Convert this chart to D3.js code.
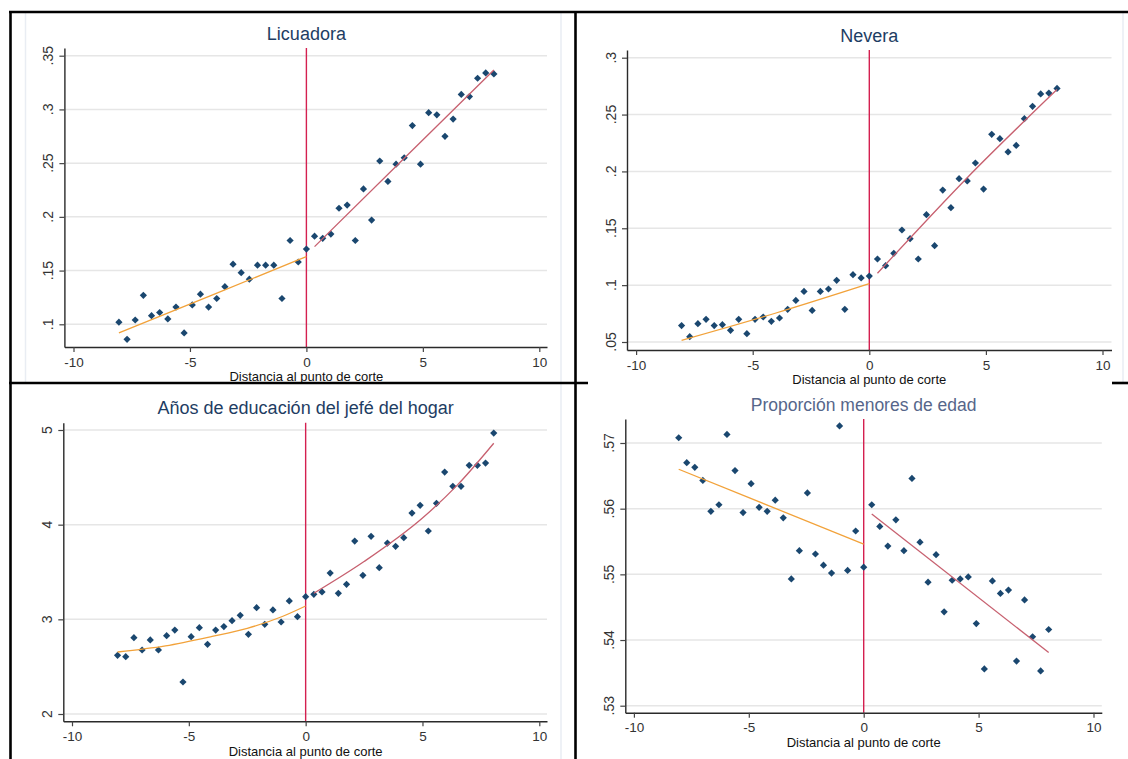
<!DOCTYPE html>
<html>
<head>
<meta charset="utf-8">
<script src="https://cdn.jsdelivr.net/npm/d3@7"></script>
<style>
  body { margin: 0; background: #fff; }
  svg { display: block; }
  text { font-family: "Liberation Sans", Arial, sans-serif; }
</style>
</head>
<body>
<svg id="chart" width="1128" height="759"></svg>
<script>
// ---------------- DATA ----------------
const xBins = [-8.05,-7.7,-7.35,-7,-6.65,-6.3,-5.95,-5.6,-5.25,-4.9,-4.55,-4.2,-3.85,-3.5,-3.15,-2.8,-2.45,-2.1,-1.75,-1.4,-1.05,-0.7,-0.35,0,
               0.35,0.7,1.05,1.4,1.75,2.1,2.45,2.8,3.15,3.5,3.85,4.2,4.55,4.9,5.25,5.6,5.95,6.3,6.65,7,7.35,7.7,8.05];

const licuadora = [.102,.086,.104,.127,.108,.111,.105,.116,.092,.118,.128,.116,.124,.135,.156,.148,.142,.155,.155,.155,.124,.178,.158,.170,
                   .182,.180,.184,.208,.211,.178,.226,.197,.252,.233,.249,.255,.285,.249,.297,.295,.275,.291,.314,.312,.329,.334,.333];
const nevera = [.0644,.0547,.0661,.0699,.0644,.0652,.0603,.0699,.0573,.0699,.0720,.0682,.0711,.0787,.0866,.0945,.0778,.0945,.0966,.1042,.0787,.1092,.1063,.1080,
                .1230,.1171,.1280,.1485,.1409,.1230,.1620,.1347,.1836,.1681,.1936,.1916,.2074,.1845,.2326,.2288,.2171,.2229,.2464,.2572,.2681,.2689,.2730];
const educacion = [2.620,2.606,2.806,2.676,2.782,2.676,2.827,2.887,2.338,2.817,2.912,2.736,2.887,2.923,2.986,3.042,2.842,3.123,2.947,3.099,2.972,3.194,3.028,3.239,
                   3.264,3.289,3.489,3.275,3.370,3.827,3.465,3.877,3.546,3.806,3.771,3.863,4.123,4.204,3.933,4.225,4.556,4.405,4.405,4.627,4.627,4.651,4.968];
const menores = [.5708,.5670,.5663,.5643,.5596,.5606,.5713,.5658,.5594,.5638,.5602,.5596,.5613,.5586,.5493,.5536,.5624,.5531,.5514,.5502,.5726,.5506,.5566,.5511,
                 .5606,.5573,.5543,.5583,.5536,.5646,.5549,.5488,.5530,.5443,.5491,.5493,.5496,.5425,.5356,.5490,.5471,.5476,.5368,.5461,.5405,.5353,.5416];

// fitted lines (left / right of the cut-off)
const licFitLeft  = [[-8.05,.092],[-4,.1277],[0,.163]];
const licFitRight = [[0.35,.1723],[4.2,.2545],[8.05,.3367]];
const nevFitLeft  = [[-8.05,.0515],[-4,.0755],[0,.1013]];
const nevFitRight = [[0.35,.1104],[4.2,.1945],[8.05,.272]];
const eduFitLeft  = [[-8.05,2.655],[-6,2.72],[-4,2.82],[-2.5,2.905],[-1,3.03],[0,3.141]];
const eduFitRight = [[0.35,3.275],[2.5,3.61],[5,4.07],[6.5,4.42],[8.05,4.86]];
const menFitLeft  = [[-8.05,.5660],[0,.5546]];
const menFitRight = [[0.35,.5592],[8.05,.5381]];

const xTicks   = [-10,-5,0,5,10];
const licTicks = [.1,.15,.2,.25,.3,.35];
const nevTicks = [.05,.1,.15,.2,.25,.3];
const eduTicks = [2,3,4,5];
const menTicks = [.53,.54,.55,.56,.57];

const titles = ["Licuadora","Nevera","Años de educación del jefé del hogar","Proporción menores de edad"];
const xTitle = "Distancia al punto de corte";

// ---------------- LAYOUT ----------------
const panels = [
  { title: titles[0], values: licuadora, fitL: licFitLeft, fitR: licFitRight, yTicks: licTicks,
    xPix: [73.5, 539.3], left: 64.4, right: 547, bottom: 347, top: 48, yRef: [[.1,324.3],[.35,55.7]],
    titleBase: 40, labelBase: 380.5, titleColor: "#1e3d63", titleSize: 18 },
  { title: titles[1], values: nevera, fitL: nevFitLeft, fitR: nevFitRight, yTicks: nevTicks,
    xPix: [636.1, 1102.5], left: 627, right: 1111.5, bottom: 350, top: 50, yRef: [[.05,342],[.3,57.7]],
    titleBase: 41.7, labelBase: 383.5, titleColor: "#1e3d63", titleSize: 18 },
  { title: titles[2], values: educacion, fitL: eduFitLeft, fitR: eduFitRight, yTicks: eduTicks,
    xPix: [72, 539.3], left: 63.3, right: 547, bottom: 721.3, top: 422.7, yRef: [[2,714],[5,430]],
    titleBase: 414, labelBase: 755.5, titleColor: "#1e3d63", titleSize: 18 },
  { title: titles[3], values: menores, fitL: menFitLeft, fitR: menFitRight, yTicks: menTicks,
    xPix: [633.9, 1093.5], left: 625.3, right: 1101.8, bottom: 712.7, top: 419, yRef: [[.53,705.7],[.57,443]],
    titleBase: 410.7, labelBase: 746.5, titleColor: "#56668a", titleSize: 17.5 }
];

const svg = d3.select("#chart");
const fmtY = v => String(+v.toFixed(4)).replace(/^0\./, ".");

// faint graph-region edges
[[25.5,12,383],[561,12,759],[1123,12,383]].forEach(([x,y1,y2]) => {
  svg.append("line").attr("x1",x).attr("x2",x).attr("y1",y1).attr("y2",y2)
    .attr("stroke","#e9edf3").attr("stroke-width",1.5);
});

panels.forEach(p => {
  const g = svg.append("g");
  const x0 = d3.scaleLinear().domain([-10,10]).range(p.xPix);
  const x = d3.scaleLinear().domain([x0.invert(p.left), x0.invert(p.right)]).range([p.left, p.right]);
  const y0 = d3.scaleLinear().domain([p.yRef[0][0], p.yRef[1][0]]).range([p.yRef[0][1], p.yRef[1][1]]);
  const y = d3.scaleLinear().domain([y0.invert(p.bottom), y0.invert(p.top)]).range([p.bottom, p.top]);

  // gridlines
  g.selectAll(".grid").data(p.yTicks).enter().append("line")
    .attr("x1", p.left).attr("x2", p.right)
    .attr("y1", d => y(d)).attr("y2", d => y(d))
    .attr("stroke", "#e6e6e6").attr("stroke-width", 1.5);

  // cut-off line
  g.append("line").attr("x1", x(0)).attr("x2", x(0)).attr("y1", p.top).attr("y2", p.bottom)
    .attr("stroke", "#d42050").attr("stroke-width", 1.4);

  // x axis
  const xa = g.append("g").attr("transform", `translate(0,${p.bottom})`)
    .call(d3.axisBottom(x).tickValues(xTicks).tickSizeInner(5).tickSizeOuter(0).tickPadding(5).tickFormat(d => String(d)));
  xa.select(".domain").attr("stroke", "#2a2a2a").attr("stroke-width", 1.4);
  xa.selectAll(".tick line").attr("stroke", "#444").attr("stroke-width", 1.2);
  xa.selectAll(".tick text").attr("font-size", 13.5).attr("fill", "#333");

  // y axis
  const ya = g.append("g").attr("transform", `translate(${p.left},0)`)
    .call(d3.axisLeft(y).tickValues(p.yTicks).tickSizeInner(5).tickSizeOuter(0).tickFormat(""));
  ya.select(".domain").attr("stroke", "#2a2a2a").attr("stroke-width", 1.4);
  ya.selectAll(".tick line").attr("stroke", "#444").attr("stroke-width", 1.2);
  g.selectAll(".ylab").data(p.yTicks).enter().append("text")
    .attr("transform", d => `translate(${p.left - 11},${y(d)}) rotate(-90)`)
    .attr("text-anchor", "middle").attr("font-size", 14).attr("fill", "#333")
    .text(fmtY);

  // scatter points
  const pts = xBins.map((xv, i) => [xv, p.values[i]]);
  g.selectAll(".pt").data(pts).enter().append("path")
    .attr("d", d3.symbol(d3.symbolSquare, 26))
    .attr("transform", d => `translate(${x(d[0])},${y(d[1])}) rotate(45)`)
    .attr("fill", "#1a476f");

  // fitted lines
  const line = d3.line().x(d => x(d[0])).y(d => y(d[1])).curve(d3.curveMonotoneX);
  g.append("path").attr("d", line(p.fitL)).attr("fill", "none")
    .attr("stroke", "#f2a23a").attr("stroke-width", 1.3);
  g.append("path").attr("d", line(p.fitR)).attr("fill", "none")
    .attr("stroke", "#c7606f").attr("stroke-width", 1.3);

  // titles
  g.append("text").attr("x", x(0)).attr("y", p.titleBase).attr("text-anchor", "middle")
    .attr("font-size", p.titleSize).attr("fill", p.titleColor).text(p.title);
  g.append("text").attr("x", x(0)).attr("y", p.labelBase).attr("text-anchor", "middle")
    .attr("font-size", 13).attr("fill", "#111").text(xTitle);
});

// table frame
const frame = [
  [9, 12, 1128, 12],
  [10.5, 11, 10.5, 759],
  [575.5, 11, 575.5, 759],
  [9, 383, 588, 383],
  [1112, 383, 1128, 383]
];
frame.forEach(([x1,y1,x2,y2]) => {
  svg.append("line").attr("x1",x1).attr("y1",y1).attr("x2",x2).attr("y2",y2)
    .attr("stroke","#000").attr("stroke-width",2.6);
});
</script>
</body>
</html>
